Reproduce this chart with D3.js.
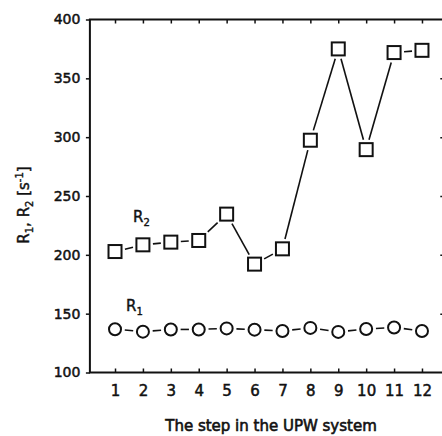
<!DOCTYPE html>
<html>
<head>
<meta charset="utf-8">
<script src="https://cdn.jsdelivr.net/npm/d3@7/dist/d3.min.js"></script>
<style>
  html, body { margin: 0; padding: 0; background: #fff; }
  svg text { font-family: "DejaVu Sans", "Liberation Sans", sans-serif; fill: #111; }
</style>
</head>
<body>
<svg id="chart" width="442" height="436"></svg>
<script>
// Relaxation rates measured at each step of the ultrapure water system
const steps = [1, 2, 3, 4, 5, 6, 7, 8, 9, 10, 11, 12];
const r2Values = [202.8, 208.5, 210.8, 212.2, 234.6, 192.1, 205.1, 297.4, 375.0, 289.4, 371.9, 373.8];
const r1Values = [136.8, 134.7, 136.6, 136.6, 137.5, 136.4, 135.3, 137.9, 134.5, 137.0, 138.3, 135.3];
const yTicks = [100, 150, 200, 250, 300, 350, 400];
const xTicks = steps;

const svg = d3.select("#chart");
const x = d3.scaleLinear().domain([0.1, 12.8]).range([89.9, 444.3]);
const y = d3.scaleLinear().domain([100, 400]).range([372.5, 19.5]);
const [x0, x1] = x.range();
const [yb, yt] = y.range();

// Left axis: outward ticks with labels
const gl = svg.append("g").attr("transform", `translate(${x0},0)`)
  .call(d3.axisLeft(y).tickValues(yTicks).tickSize(4).tickSizeOuter(0).tickPadding(5.5));
// Right axis: inward ticks only
const gr = svg.append("g").attr("transform", `translate(${x1},0)`)
  .call(d3.axisRight(y).tickValues(yTicks.slice(1, -1)).tickSize(-4).tickSizeOuter(0).tickFormat(""));
// Bottom axis: inward ticks with labels
const gb = svg.append("g").attr("transform", `translate(0,${yb})`)
  .call(d3.axisBottom(x).tickValues(xTicks).tickSize(-4).tickSizeOuter(0).tickPadding(12.5).tickFormat(d3.format("d")));
// Top axis: inward ticks only
const gt = svg.append("g").attr("transform", `translate(0,${yt})`)
  .call(d3.axisTop(x).tickValues(xTicks).tickSize(-4).tickSizeOuter(0).tickFormat(""));

[gl, gr, gb, gt].forEach(g => {
  g.select(".domain").remove();
  g.selectAll(".tick line").attr("stroke", "#111").attr("stroke-width", 1.5);
  g.selectAll("text").attr("fill", "#111").attr("stroke", "#111").attr("stroke-width", 0.5);
});
gl.selectAll("text").style("font-size", "14px");
gb.selectAll("text").style("font-size", "15px");

// Frame
svg.append("rect")
  .attr("x", x0).attr("y", yt).attr("width", x1 - x0).attr("height", yb - yt)
  .attr("fill", "none").attr("stroke", "#111").attr("stroke-width", 2);

// Connecting segments that stop short of the markers
function segments(values, shape, half, gap) {
  const pts = values.map((v, i) => [x(steps[i]), y(v)]);
  const out = [];
  for (let i = 0; i < pts.length - 1; i++) {
    const [ax, ay] = pts[i], [bx, by] = pts[i + 1];
    const dx = bx - ax, dy = by - ay, len = Math.hypot(dx, dy);
    const ux = dx / len, uy = dy / len;
    const d = (shape === "square" ? half / Math.max(Math.abs(ux), Math.abs(uy)) : half) + gap;
    if (len > 2 * d) out.push([ax + ux * d, ay + uy * d, bx - ux * d, by - uy * d]);
  }
  return out;
}

const sqSize = 13, circR = 6;

svg.append("g").selectAll("line").data(segments(r2Values, "square", sqSize / 2, 3.5)).join("line")
  .attr("x1", d => d[0]).attr("y1", d => d[1]).attr("x2", d => d[2]).attr("y2", d => d[3])
  .attr("stroke", "#111").attr("stroke-width", 1.6);
svg.append("g").selectAll("line").data(segments(r1Values, "circle", circR, 3.8)).join("line")
  .attr("x1", d => d[0]).attr("y1", d => d[1]).attr("x2", d => d[2]).attr("y2", d => d[3])
  .attr("stroke", "#111").attr("stroke-width", 1.6);

svg.append("g").selectAll("rect").data(r2Values).join("rect")
  .attr("x", (d, i) => x(steps[i]) - sqSize / 2).attr("y", d => y(d) - sqSize / 2)
  .attr("width", sqSize).attr("height", sqSize)
  .attr("fill", "#fff").attr("stroke", "#111").attr("stroke-width", 2);

svg.append("g").selectAll("circle").data(r1Values).join("circle")
  .attr("cx", (d, i) => x(steps[i])).attr("cy", d => y(d)).attr("r", circR)
  .attr("fill", "#fff").attr("stroke", "#111").attr("stroke-width", 2);

// Series labels
function seriesLabel(px, py, sub) {
  const t = svg.append("text").attr("x", px).attr("y", py)
    .style("font-size", "15px").attr("stroke", "#111").attr("stroke-width", 0.4);
  t.append("tspan").text("R");
  t.append("tspan").attr("dy", 4).style("font-size", "10px").text(sub);
}
seriesLabel(133, 222, "2");
seriesLabel(126, 311, "1");

// Axis titles
const yl = svg.append("text")
  .attr("transform", "translate(29,205) rotate(-90)")
  .attr("text-anchor", "middle")
  .style("font-size", "15px").attr("stroke", "#111").attr("stroke-width", 0.4);
yl.append("tspan").text("R");
yl.append("tspan").attr("dy", 4).style("font-size", "10px").text("1");
yl.append("tspan").attr("dy", -4).text(", R");
yl.append("tspan").attr("dy", 4).style("font-size", "10px").text("2");
yl.append("tspan").attr("dy", -4).text(" [s");
yl.append("tspan").attr("dy", -6).style("font-size", "10px").text("-1");
yl.append("tspan").attr("dy", 6).text("]");

svg.append("text")
  .attr("x", 271).attr("y", 431)
  .attr("text-anchor", "middle")
  .style("font-size", "15px").attr("stroke", "#111").attr("stroke-width", 0.6)
  .text("The step in the UPW system");
</script>
</body>
</html>
